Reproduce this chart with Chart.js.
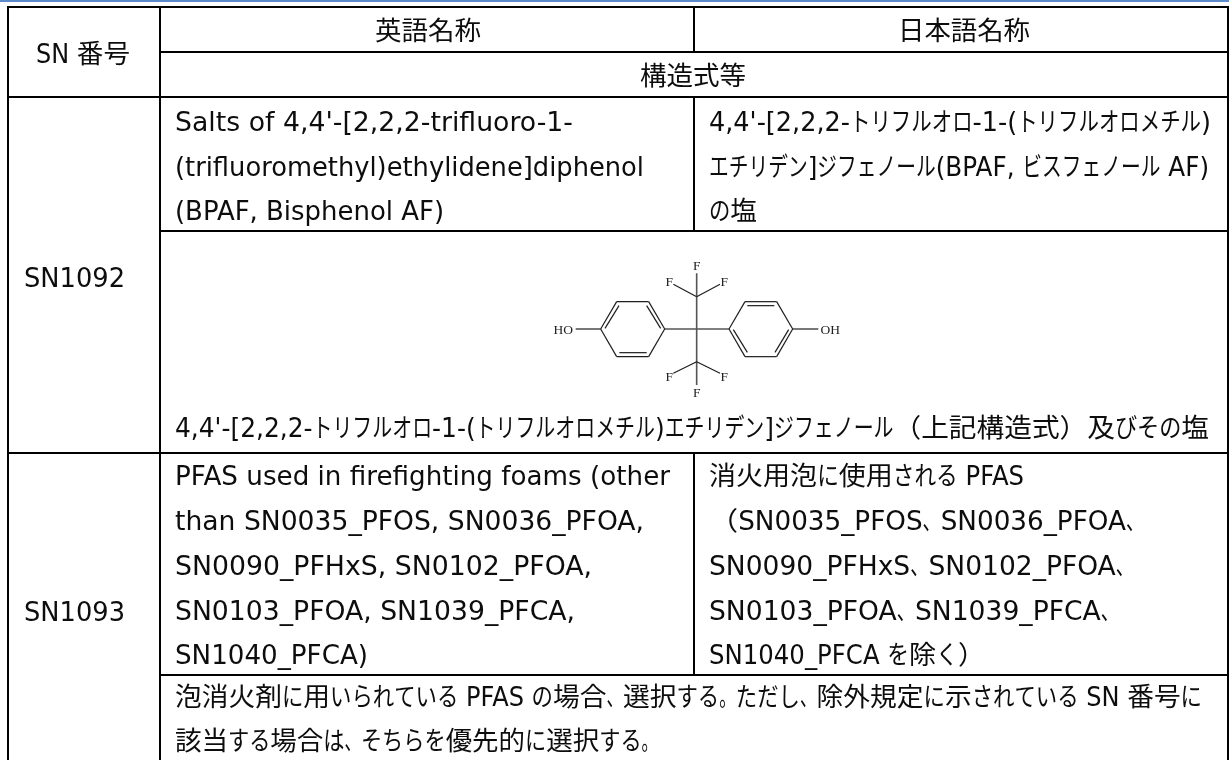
<!DOCTYPE html>
<html lang="ja"><head><meta charset="utf-8">
<style>html,body{margin:0;padding:0;background:#fff}canvas{display:block}</style>
<script src="https://cdn.jsdelivr.net/npm/chart.js@4"></script>
</head><body><canvas id="c" width="1229" height="760"></canvas>
<script>
// ---- text content ----
const headerTexts = ["SN 番号","英語名称","日本語名称","構造式等"];
const snNumbers = ["SN1092","SN1093"];
const english1092 = ["Salts of 4,4'-[2,2,2-trifluoro-1-","(trifluoromethyl)ethylidene]diphenol","(BPAF, Bisphenol AF)"];
const japanese1092 = ["4,4'-[2,2,2-トリフルオロ-1-(トリフルオロメチル)","エチリデン]ジフェノール(BPAF, ビスフェノール AF)","の塩"];
const note1092 = ["4,4'-[2,2,2-トリフルオロ-1-(トリフルオロメチル)エチリデン]ジフェノール（上記構造式）及びその塩"];
const english1093 = ["PFAS used in firefighting foams (other","than SN0035_PFOS, SN0036_PFOA,","SN0090_PFHxS, SN0102_PFOA,","SN0103_PFOA, SN1039_PFCA,","SN1040_PFCA)"];
const japanese1093 = ["消火用泡に使用される PFAS","（SN0035_PFOS、SN0036_PFOA、","SN0090_PFHxS、SN0102_PFOA、","SN0103_PFOA、SN1039_PFCA、","SN1040_PFCA を除く）"];
const note1093 = ["泡消火剤に用いられている PFAS の場合、選択する。ただし、除外規定に示されている SN 番号に","該当する場合は、そちらを優先的に選択する。"];
const atomLabels = ["HO","OH","F","F","F","F","F","F"];

// ---- layout (page units) ----
const bluePageRule = [[0,1],[1229,1]];
const tableSegments = [
 [[8,7],[1228,7]],[[160,52],[1228,52]],[[8,97],[1228,97]],[[160,231],[1228,231]],
 [[8,453],[1228,453]],[[160,675],[1228,675]],
 [[8,6],[8,760]],[[160,6],[160,760]],[[1228,6],[1228,760]],
 [[694,6],[694,52]],[[694,97],[694,231]],[[694,453],[694,675]]
];
// [text, left, right, baseline]
const textPlacement = [
 [headerTexts[0],36,130,63],[headerTexts[1],375,481,40],[headerTexts[2],898,1030,40],[headerTexts[3],640,746,85],
 [snNumbers[0],24,125,287],[snNumbers[1],24,125,621],
 [english1092[0],175,573,131],[english1092[1],175,644,176],[english1092[2],175,444,220],
 [japanese1092[0],709,1211,131],[japanese1092[1],709,1209,176],[japanese1092[2],709,757,220],
 [note1092[0],175,1209,437],
 [english1093[0],175,670,485],[english1093[1],175,644,530],[english1093[2],175,592,575],[english1093[3],175,575,620],[english1093[4],175,368,664],
 [japanese1093[0],709,1024,485],[japanese1093[1],709,1144,530],[japanese1093[2],709,1134,575],[japanese1093[3],709,1119,620],[japanese1093[4],709,985,664],
 [note1093[0],175,1202,706],[note1093[1],175,658,750]
];
// molecule, in the structure's own 3x drawing units, placed at structureOrigin
const structureOrigin = [510,245];
const ringBonds = [
 [[197,252],[272,252]],[[272,252],[320,170]],[[320,170],[416,170]],[[416,170],[464,252]],[[464,252],[416,335]],[[416,335],[320,335]],[[320,335],[272,252]],
 [[285,250],[327,182]],[[410,182],[452,250]],[[328,323],[410,323]],
 [[657,252],[705,170]],[[705,170],[800,170]],[[800,170],[848,252]],[[848,252],[800,335]],[[800,335],[705,335]],[[705,335],[657,252]],[[848,252],[925,252]],
 [[712,182],[793,182]],[[670,254],[712,322]],[[795,322],[836,254]],
 [[490,118],[560,155]],[[630,118],[560,155]],[[490,385],[560,350]],[[630,385],[560,350]]
];
const coreBonds = [[[464,252],[657,252]],[[560,85],[560,420]]];
const atomPlacement = [[160,255],[961,255],[560,63],[478,112],[643,112],[478,398],[643,398],[560,445]];

const toPage = p => ({x:structureOrigin[0]+p[0]/3, y:structureOrigin[1]+p[1]/3});
const seg = (s,color,w) => ({data:s.map(p=>({x:p[0],y:p[1]})),borderColor:color,borderWidth:w,showLine:true,pointRadius:0,fill:false,tension:0,clip:false});
const bond = (s,color,w) => ({data:s.map(toPage),borderColor:color,borderWidth:w,showLine:true,pointRadius:0,fill:false,tension:0});

const FONT = '"DejaVu Sans","Noto Sans CJK JP",sans-serif';
function runClass(ch){
  if(/[\u30A0-\u30FF]/.test(ch)) return 'kata';
  if(/[\u3040-\u309F]/.test(ch)) return 'hira';
  if(/[\u3001\u3002]/.test(ch)) return 'punct';
  if(/[\u3000-\u9FFF\uFF00-\uFFEF]/.test(ch)) return 'cjk';
  return 'latin';
}
const runScale = {kata:0.72,hira:0.8,punct:0.62,cjk:1.0,latin:0.9};
const textPlugin = {id:'tableText',afterDatasetsDraw(chart){
  const c = chart.ctx, sx = chart.scales.x, sy = chart.scales.y;
  c.save();
  c.fillStyle='#0d0d0d'; c.textBaseline='alphabetic'; c.textAlign='left';
  c.font='26px '+FONT;
  for(const [t,l,r,b] of textPlacement){
    const runs=[]; for(const ch of t){const k=runClass(ch); if(runs.length&&runs[runs.length-1].k===k) runs[runs.length-1].s+=ch; else runs.push({k,s:ch});}
    let total=0; for(const u of runs){u.w=c.measureText(u.s).width*runScale[u.k]; total+=u.w;}
    const left=sx.getPixelForValue(l), right=sx.getPixelForValue(r), base=sy.getPixelForValue(b);
    const fit=(right-left)/total;
    let x=left;
    for(const u of runs){
      c.save(); c.translate(x,base); c.scale(runScale[u.k]*fit,1); c.fillText(u.s,0,0); c.restore();
      x+=u.w*fit;
    }
  }
  c.fillStyle='#222'; c.font='13.5px "Liberation Serif",serif'; c.textAlign='center'; c.textBaseline='middle';
  atomLabels.forEach((t,i)=>{const p=toPage(atomPlacement[i]); c.fillText(t,sx.getPixelForValue(p.x),sy.getPixelForValue(p.y));});
  c.restore();
}};

new Chart(document.getElementById('c'),{
  type:'scatter',
  data:{datasets:[
    seg(bluePageRule,'#5b8bc8',2),
    ...tableSegments.map(s=>seg(s,'#000',2)),
    ...ringBonds.map(s=>bond(s,'#1e1e1e',1.2)),
    ...coreBonds.map(s=>bond(s,'#555',1.6))
  ]},
  options:{responsive:false,animation:false,events:[],layout:{padding:0},
    plugins:{legend:{display:false},tooltip:{enabled:false},title:{display:false}},
    scales:{x:{type:'linear',display:false,min:0,max:1229},y:{type:'linear',display:false,min:0,max:760,reverse:true}}},
  plugins:[textPlugin]
});
</script></body></html>
